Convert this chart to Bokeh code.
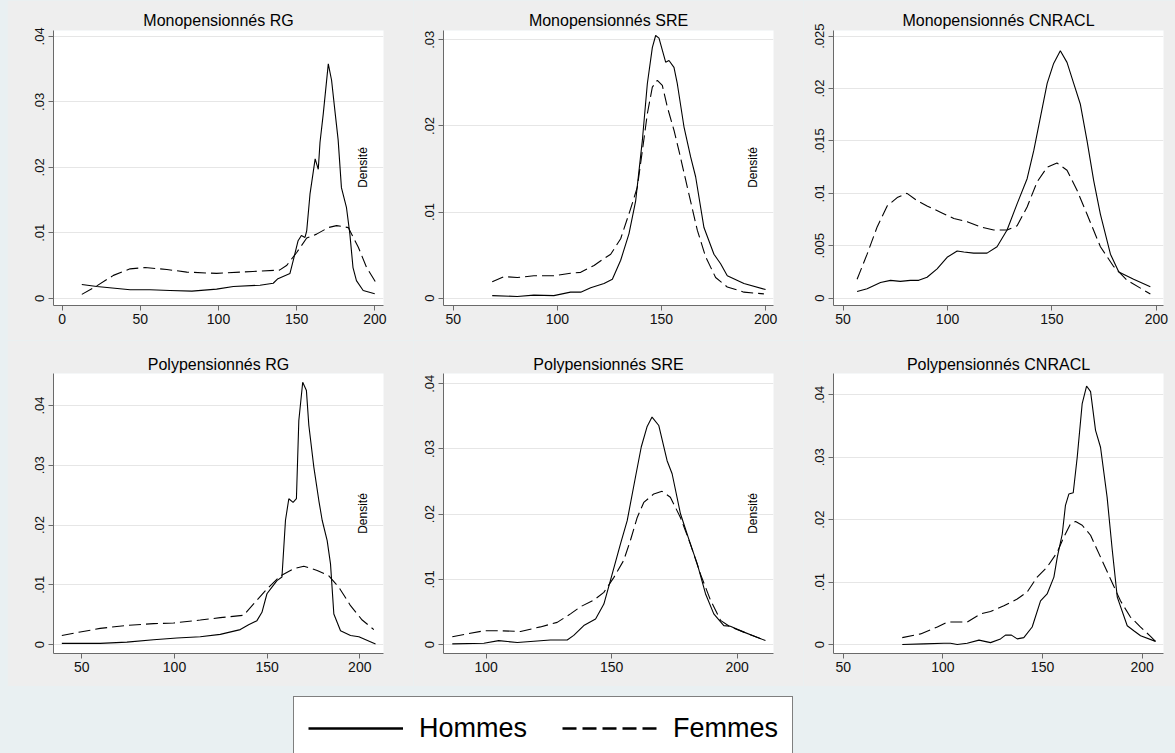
import math
from bokeh.plotting import figure
from bokeh.layouts import column, row
from bokeh.models import (Spacer, FixedTicker, Range1d, Label, Legend, LegendItem,
                          CustomJSTickFormatter)
from bokeh.embed import file_html
from bokeh.resources import INLINE

# ---------------- data ----------------
titles = ["Monopensionnés RG", "Monopensionnés SRE", "Monopensionnés CNRACL",
          "Polypensionnés RG", "Polypensionnés SRE", "Polypensionnés CNRACL"]
series_labels = ["Hommes", "Femmes"]
density_label = "Densité"

# Monopensionnés RG
mono_rg_h_x = [12.6, 22.2, 43.5, 56.2, 69, 83, 98.8, 109.5, 126.5, 135, 138, 145.7, 147.8, 150.9, 153,
               155.3, 156.4, 158.5, 160.7, 161.8, 163.8, 164.9, 167, 170.2, 172.3, 174.4, 176.5, 178.6,
               181.8, 184, 186, 188.2, 192.5, 199.9]
mono_rg_h_y = [0.0021, 0.0018, 0.0013, 0.0013, 0.0012, 0.0011, 0.0014, 0.0018, 0.0020, 0.0023, 0.0030,
               0.0038, 0.0058, 0.0088, 0.0096, 0.0093, 0.0103, 0.0159, 0.0195, 0.0213, 0.0197, 0.0238,
               0.0282, 0.0358, 0.0333, 0.0287, 0.0242, 0.0169, 0.0139, 0.0098, 0.0047, 0.0027, 0.0012, 0.0007]
mono_rg_f_x = [12.6, 22.2, 32.8, 43.5, 53, 67, 79.7, 98.8, 122, 139, 143.5, 150, 156.4, 162.7, 170.2,
               175.5, 183, 189.4, 194.7, 200.9]
mono_rg_f_y = [0.0006, 0.0019, 0.0035, 0.0045, 0.0047, 0.0044, 0.0040, 0.0038, 0.0041, 0.0043, 0.0050,
               0.0070, 0.0092, 0.0098, 0.0108, 0.0111, 0.0108, 0.0078, 0.0047, 0.0023]

# Monopensionnés SRE
mono_sre_h_x = [68.7, 80.7, 88.7, 98.3, 106.3, 111.2, 116, 122.4, 126.4, 130.4, 134.4, 137.6, 140.8, 143.2,
                145.6, 147.2, 148.8, 150.4, 152, 153.6, 156, 157.6, 160.8, 164, 166.4, 170.4, 175.2,
                178.4, 181.6, 189.6, 200]
mono_sre_h_y = [0.0003, 0.0002, 0.00035, 0.0003, 0.0007, 0.0007, 0.0012, 0.0017, 0.0022, 0.0044, 0.0075,
                0.0113, 0.0183, 0.0249, 0.0291, 0.0305, 0.0302, 0.0288, 0.0274, 0.0276, 0.0268, 0.0249,
                0.0199, 0.0164, 0.0141, 0.0082, 0.0051, 0.0040, 0.0026, 0.0017, 0.0010]
mono_sre_f_x = [68.7, 74.3, 80.7, 88.7, 98.3, 106.3, 111.2, 117.6, 122.4, 125.6, 130.4, 135.2, 138.4,
                140.8, 143.2, 145.6, 148, 150.4, 152.8, 156, 158.4, 162.4, 167.2, 171.2, 176, 181.6,
                189.6, 199.2]
mono_sre_f_y = [0.0019, 0.0025, 0.0024, 0.0026, 0.0026, 0.0029, 0.0030, 0.0038, 0.0046, 0.0051, 0.0069,
                0.0104, 0.0129, 0.0171, 0.0214, 0.0245, 0.0253, 0.0247, 0.0222, 0.0195, 0.0171, 0.0129,
                0.0079, 0.0048, 0.0024, 0.0013, 0.0007, 0.0005]

# Monopensionnés CNRACL
mono_cn_h_x = [56.7, 61.5, 67.9, 72.7, 77.4, 82.2, 86.2, 90.2, 95, 99.8, 104.6, 107.8, 112.5, 118.9,
               123.7, 128.5, 133.3, 138.1, 141.3, 144.5, 147.7, 150.8, 154, 157.2, 160.4, 163.6, 166.8,
               170, 173.2, 178, 182, 189.1, 197.1]
mono_cn_h_y = [0.00064, 0.0009, 0.0015, 0.0017, 0.0016, 0.0017, 0.0017, 0.0020, 0.0028, 0.0039, 0.0045,
               0.0044, 0.0043, 0.0043, 0.0049, 0.0065, 0.0090, 0.0114, 0.0141, 0.0173, 0.0205, 0.0224,
               0.0236, 0.0225, 0.0205, 0.0185, 0.0150, 0.0112, 0.0080, 0.0042, 0.0025, 0.0018, 0.0011]
mono_cn_f_x = [56.7, 61.5, 66.3, 71.1, 75.9, 80.6, 85.4, 90.2, 96.6, 103, 109.4, 115.7, 122.1, 128.5,
               133.3, 138.1, 142.9, 147.7, 152.4, 157.2, 162, 166.8, 173.2, 179.6, 186, 197.1]
mono_cn_f_y = [0.0018, 0.0042, 0.0068, 0.0088, 0.0096, 0.0100, 0.0093, 0.0088, 0.0082, 0.0076, 0.0073,
               0.0068, 0.0065, 0.0065, 0.0069, 0.0087, 0.0111, 0.0125, 0.0129, 0.0122, 0.0103, 0.0080,
               0.0049, 0.0030, 0.0017, 0.0004]

# Polypensionnés RG
poly_rg_h_x = [39.2, 59.9, 74.3, 88.7, 101.3, 113.9, 124.7, 135.5, 140, 144.5, 147.2, 149.9, 152.6, 155.3,
               158, 159.9, 161.7, 164, 165.8, 167.1, 169.2, 171.2, 172.5, 175.2, 177.9, 179.7, 182.4,
               184.2, 186, 189.6, 195, 199.5, 208.5]
poly_rg_h_y = [0.0002, 0.0002, 0.0004, 0.0008, 0.0011, 0.0013, 0.0017, 0.0025, 0.0033, 0.0040, 0.0054,
               0.0085, 0.0096, 0.0107, 0.0113, 0.0208, 0.0244, 0.0238, 0.0244, 0.0375, 0.0439, 0.0425,
               0.0367, 0.0297, 0.0241, 0.0208, 0.0174, 0.0135, 0.0051, 0.0023, 0.0015, 0.0013, 0.0001]
poly_rg_f_x = [39.2, 49.1, 59.9, 74.3, 88.7, 99.5, 113.9, 124.7, 137.3, 142.7, 149.9, 157.2, 164.4, 169.8,
               177, 183.3, 188.7, 195, 201.3, 207.6]
poly_rg_f_y = [0.0015, 0.0021, 0.0027, 0.0032, 0.0035, 0.0036, 0.0041, 0.0045, 0.0049, 0.0068, 0.0093,
               0.0115, 0.0127, 0.0131, 0.0124, 0.0115, 0.0096, 0.0065, 0.0041, 0.0025]

# Polypensionnés SRE
poly_sre_h_x = [86.5, 99.1, 105, 112.4, 119, 125.6, 132.3, 134.9, 138.9, 143.6, 146.9, 149.5, 153.5, 156.2,
                159.5, 161.8, 164.1, 166.1, 168.8, 172.1, 174.1, 177.4, 181.4, 184.1, 187.4, 190.7, 194.7,
                197.3, 202.7, 211.3]
poly_sre_h_y = [0.0001, 0.0002, 0.0006, 0.0003, 0.0005, 0.0007, 0.0007, 0.0014, 0.0029, 0.0039, 0.0062,
                0.0098, 0.0154, 0.0190, 0.0257, 0.0303, 0.0334, 0.0349, 0.0336, 0.0282, 0.0262, 0.0201,
                0.0154, 0.0124, 0.0078, 0.0047, 0.0029, 0.0028, 0.0019, 0.0006]
poly_sre_f_x = [86.5, 99.1, 105.7, 113.7, 121.6, 128.3, 133.6, 137.6, 142.9, 146.9, 150.9, 154.8, 157.5,
                160.2, 162.8, 166.8, 170.1, 173.4, 177.4, 181.4, 185.4, 189.4, 193.4, 197.3, 202.7, 211.3]
poly_sre_f_y = [0.0012, 0.0021, 0.0021, 0.0020, 0.0027, 0.0034, 0.0047, 0.0058, 0.0068, 0.0080, 0.0103,
                0.0129, 0.0160, 0.0195, 0.0218, 0.0231, 0.0235, 0.0226, 0.0195, 0.0154, 0.0108, 0.0068,
                0.0037, 0.0027, 0.0019, 0.0006]

# Polypensionnés CNRACL
poly_cn_h_x = [79.6, 90.5, 100.5, 103.8, 107.2, 112.2, 118.1, 123.9, 128.9, 131.4, 134.4, 137.3, 140.6,
               144.8, 149, 152.3, 155.7, 157.4, 159.9, 161.5, 163.2, 165.4, 167.4, 169.9, 172.1, 174.1,
               176.6, 179.1, 182.4, 185, 187.5, 192.5, 195.8, 199.2, 206.7]
poly_cn_h_y = [0.0, 0.0001, 0.0002, 0.0002, 0.0, 0.0002, 0.0007, 0.0003, 0.0009, 0.0015, 0.0015, 0.0009,
               0.0011, 0.0028, 0.0070, 0.0081, 0.0108, 0.0140, 0.0177, 0.0223, 0.0241, 0.0243, 0.0300,
               0.0386, 0.0414, 0.0405, 0.0343, 0.0316, 0.0236, 0.0151, 0.0076, 0.0030, 0.0022, 0.0014, 0.0005]
poly_cn_f_x = [79.6, 88.8, 97.2, 102.2, 112.2, 118.9, 123.9, 130.6, 137.3, 142.3, 147.3, 152.3, 157.4,
               160.7, 164, 166.6, 169.9, 174.1, 179.1, 184.1, 189.1, 194.1, 199.2, 204.2, 206.7]
poly_cn_f_y = [0.0011, 0.0017, 0.0028, 0.0036, 0.0036, 0.0049, 0.0053, 0.0062, 0.0073, 0.0084, 0.0108,
               0.0124, 0.0148, 0.0172, 0.0193, 0.0197, 0.0191, 0.0175, 0.0140, 0.0105, 0.0070, 0.0044,
               0.0028, 0.0013, 0.0005]

# axis ticks per panel
x_ticks = [[0, 50, 100, 150, 200], [50, 100, 150, 200], [50, 100, 150, 200],
           [50, 100, 150, 200], [100, 150, 200], [50, 100, 150, 200]]
y_ticks = [[0, 0.01, 0.02, 0.03, 0.04], [0, 0.01, 0.02, 0.03], [0, 0.005, 0.01, 0.015, 0.02, 0.025],
           [0, 0.01, 0.02, 0.03, 0.04], [0, 0.01, 0.02, 0.03, 0.04], [0, 0.01, 0.02, 0.03, 0.04]]

# ---------------- layout / style ----------------
FONT = "Liberation Sans"
OUTER_BG = "#e9f0f2"
PANEL_BG = "#eeeeee"
AXIS_COL = "#6a6a6a"

x_ranges = [(-5.5, 205.5), (45.3, 203.8), (45.4, 203.4), (34.7, 212.8), (83.0, 214.5), (45.1, 210.7)]
y_ranges = [(-0.0011, 0.0409), (-0.00085, 0.03108), (-0.0007, 0.02554),
            (-0.0015, 0.04536), (-0.00138, 0.04158), (-0.00144, 0.04341)]

fmt = CustomJSTickFormatter(code="""
    if (tick == 0) return "0";
    return tick.toString().replace(/^0\\./, ".");
""")


def make_panel(i, hx, hy, fx, fy, width, height, left, right, top, bottom, title_standoff, densite):
    p = figure(width=width, height=height, x_range=Range1d(*x_ranges[i]), y_range=Range1d(*y_ranges[i]),
               output_backend="svg", toolbar_location=None, title=titles[i],
               min_border_left=left, min_border_right=right, min_border_top=top, min_border_bottom=bottom)
    p.background_fill_color = "white"
    p.border_fill_color = PANEL_BG
    p.outline_line_color = None
    p.title.align = "center"
    p.title.text_font = FONT
    p.title.text_font_size = "16px"
    p.title.text_font_style = "normal"
    p.title.text_color = "black"
    p.title.standoff = title_standoff

    p.xaxis.ticker = FixedTicker(ticks=x_ticks[i])
    p.yaxis.ticker = FixedTicker(ticks=y_ticks[i])
    p.yaxis.formatter = fmt
    for ax in (p.xaxis[0], p.yaxis[0]):
        ax.axis_line_color = AXIS_COL
        ax.major_tick_line_color = AXIS_COL
        ax.minor_tick_line_color = None
        ax.major_tick_out = 5
        ax.major_tick_in = 0
        ax.major_label_text_font = FONT
        ax.major_label_text_color = "#111111"
    p.xaxis.major_label_text_font_size = "14px"
    p.xaxis.major_label_standoff = 3
    p.yaxis.major_label_text_font_size = "13px"
    p.yaxis.major_label_orientation = "vertical"
    p.yaxis.major_label_standoff = 4
    p.xgrid.visible = False
    p.ygrid.ticker = FixedTicker(ticks=y_ticks[i])
    p.ygrid.grid_line_color = "#e6e6e6"
    p.ygrid.grid_line_width = 1

    p.line(hx, hy, line_color="black", line_width=1.1)
    p.line(fx, fy, line_color="black", line_width=1.1, line_dash="12 5")

    if densite is not None:
        p.add_layout(Label(x=densite[0], y=densite[1], x_units="screen", y_units="screen",
                           text=density_label, angle=math.pi / 2, text_align="center",
                           text_baseline="middle", text_font=FONT, text_font_size="12px",
                           text_color="black"))
    return p


TOP_H, BOT_H = 340, 346
f1 = make_panel(0, mono_rg_h_x, mono_rg_h_y, mono_rg_f_x, mono_rg_f_y, 406, TOP_H, 46, 30, 30, 35, 3, (309, 138))
f2 = make_panel(1, mono_sre_h_x, mono_sre_h_y, mono_sre_f_x, mono_sre_f_y, 390, TOP_H, 30, 30, 30, 35, 3, (309, 138))
f3 = make_panel(2, mono_cn_h_x, mono_cn_h_y, mono_cn_f_x, mono_cn_f_y, 372, TOP_H, 30, 12, 30, 35, 3, None)
f4 = make_panel(3, poly_rg_h_x, poly_rg_h_y, poly_rg_f_x, poly_rg_f_y, 406, BOT_H, 46, 30, 33, 33, 1, (309, 140))
f5 = make_panel(4, poly_sre_h_x, poly_sre_h_y, poly_sre_f_x, poly_sre_f_y, 390, BOT_H, 30, 30, 33, 33, 1, (309, 140))
f6 = make_panel(5, poly_cn_h_x, poly_cn_h_y, poly_cn_f_x, poly_cn_f_y, 372, BOT_H, 30, 12, 33, 33, 1, None)

# legend strip (the two key renderers sit outside the visible range; only their legend glyphs show)
lg = figure(width=1175, height=67, x_range=Range1d(0, 1), y_range=Range1d(0, 1),
            output_backend="svg", toolbar_location=None, x_axis_type=None, y_axis_type=None,
            min_border=0)
lg.background_fill_color = OUTER_BG
lg.border_fill_color = OUTER_BG
lg.outline_line_color = None
lg.xgrid.visible = False
lg.ygrid.visible = False
r_h = lg.line([-5, -4], [-5, -4], line_color="black", line_width=2.5)
r_f = lg.line([-5, -4], [-5, -4], line_color="black", line_width=2.5, line_dash="14 6")
legend = Legend(items=[LegendItem(label=series_labels[0], renderers=[r_h]),
                       LegendItem(label=series_labels[1], renderers=[r_f])],
                orientation="horizontal", location=(293, -7), margin=0, padding=14,
                spacing=35, glyph_width=95, glyph_height=34, label_height=34,
                label_standoff=16, label_text_font=FONT, label_text_font_size="27px",
                label_text_color="black", border_line_color="black", border_line_width=1.5,
                background_fill_color="white", background_fill_alpha=1.0)
lg.add_layout(legend)

sp1 = Spacer(width=7, height=TOP_H, styles={"background-color": OUTER_BG})
sp2 = Spacer(width=7, height=BOT_H, styles={"background-color": OUTER_BG})
p = column(row(sp1, f1, f2, f3), row(sp2, f4, f5, f6), lg,
           styles={"background-color": OUTER_BG})

open("out.html", "w").write(file_html(p, INLINE))
